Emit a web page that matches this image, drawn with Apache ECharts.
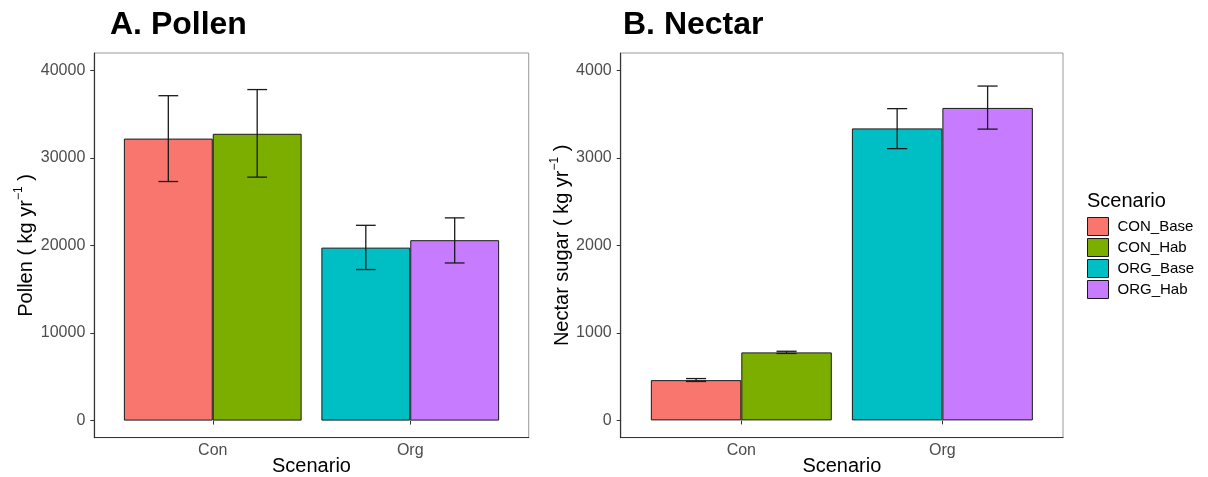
<!DOCTYPE html>
<html>
<head>
<meta charset="utf-8">
<script src="https://cdn.jsdelivr.net/npm/echarts@6/dist/echarts.min.js"></script>
<style>
  html, body { margin: 0; padding: 0; background: #fff; }
  #chart { width: 1208px; height: 477px; }
</style>
</head>
<body>
<div id="chart"></div>
<script>
// Scenario groups on the x axis and the four fill levels
const categories = ['Con', 'Org'];
const scenarios = ['CON_Base', 'CON_Hab', 'ORG_Base', 'ORG_Hab'];
const scenarioCategory = ['Con', 'Con', 'Org', 'Org'];
const scenarioSlot = ['Base', 'Hab', 'Base', 'Hab'];
const scenarioColors = ['#F8766D', '#7CAE00', '#00BFC4', '#C77CFF'];

// A. Pollen (kg yr-1): mean with lower / upper error limits
const pollenMean = [32200, 32750, 19750, 20600];
const pollenLow = [27300, 27800, 17250, 18000];
const pollenHigh = [37100, 37800, 22300, 23150];

// B. Nectar sugar (kg yr-1): mean with lower / upper error limits
const nectarMean = [460, 777, 3336, 3570];
const nectarLow = [445, 765, 3105, 3328];
const nectarHigh = [478, 790, 3562, 3820];

const FONT = 'Liberation Sans, Arial, sans-serif';
const chart = echarts.init(document.getElementById('chart'));

function barSeries(axisIdx, means) {
  return scenarios.map((name, i) => {
    const catIdx = categories.indexOf(scenarioCategory[i]);
    const data = categories.map((c, k) => (k === catIdx ? means[i] : '-'));
    return {
      name: name,
      type: 'bar',
      xAxisIndex: axisIdx,
      yAxisIndex: axisIdx,
      stack: 'slot' + axisIdx + scenarioSlot[i],
      barCategoryGap: '10%',
      barGap: '0%',
      data: data,
      itemStyle: { color: scenarioColors[i], borderColor: '#1a1a1a', borderWidth: 1 },
      emphasis: { disabled: true },
      silent: true
    };
  });
}

function errorSeries(axisIdx, low, high) {
  const data = scenarios.map((name, i) => [
    categories.indexOf(scenarioCategory[i]),
    low[i],
    high[i],
    scenarioSlot[i] === 'Base' ? -1 : 1
  ]);
  return {
    type: 'custom',
    xAxisIndex: axisIdx,
    yAxisIndex: axisIdx,
    silent: true,
    z: 5,
    encode: { x: 0, y: [1, 2] },
    data: data,
    renderItem: function (params, api) {
      const cat = api.value(0);
      const band = api.size([1, 0])[0];
      const dx = api.value(3) * band * 0.225;
      const pLo = api.coord([cat, api.value(1)]);
      const pHi = api.coord([cat, api.value(2)]);
      const x = pLo[0] + dx;
      const hw = band * 0.05;
      const style = { stroke: '#1a1a1a', lineWidth: 1.3 };
      return {
        type: 'group',
        children: [
          { type: 'line', shape: { x1: x, y1: pLo[1], x2: x, y2: pHi[1] }, style: style },
          { type: 'line', shape: { x1: x - hw, y1: pLo[1], x2: x + hw, y2: pLo[1] }, style: style },
          { type: 'line', shape: { x1: x - hw, y1: pHi[1], x2: x + hw, y2: pHi[1] }, style: style }
        ]
      };
    }
  };
}

function mainXAxis(gridIdx) {
  return {
    type: 'category',
    gridIndex: gridIdx,
    data: categories,
    boundaryGap: true,
    offset: 17,
    name: 'Scenario',
    nameLocation: 'middle',
    nameGap: 19,
    nameMoveOverlap: false,
    nameTextStyle: { fontFamily: FONT, fontSize: 20, color: '#000' },
    axisLine: { show: false },
    axisTick: { show: true, length: 4, alignWithLabel: true, lineStyle: { color: '#333', width: 1 } },
    axisLabel: { fontFamily: FONT, fontSize: 16, color: '#4d4d4d', margin: 5 },
    splitLine: { show: false }
  };
}

function mainYAxis(gridIdx, max, interval, offset, nameText, nameGap) {
  return {
    type: 'value',
    gridIndex: gridIdx,
    min: 0,
    max: max,
    interval: interval,
    offset: offset,
    name: '{t|' + nameText + ' ( kg yr}{s|−1}{t| )}',
    nameLocation: 'middle',
    nameGap: nameGap,
    nameMoveOverlap: false,
    nameTextStyle: {
      fontFamily: FONT,
      color: '#000',
      rich: {
        t: { fontFamily: FONT, fontSize: 20, color: '#000', lineHeight: 24, verticalAlign: 'bottom' },
        s: { fontFamily: FONT, fontSize: 12, color: '#000', lineHeight: 24, verticalAlign: 'top' }
      }
    },
    axisLine: { show: false },
    axisTick: { show: true, length: 4, lineStyle: { color: '#333', width: 1 } },
    axisLabel: {
      fontFamily: FONT, fontSize: 16, color: '#4d4d4d', margin: 9,
      formatter: function (v) { return String(v); }
    },
    splitLine: { show: false }
  };
}

function frameAxis(gridIdx) {
  return {
    type: 'value',
    gridIndex: gridIdx,
    min: 0,
    max: 1,
    axisLine: { show: true, lineStyle: { color: '#333', width: 1.2 } },
    axisTick: { show: false },
    axisLabel: { show: false },
    splitLine: { show: false }
  };
}

const option = {
  animation: false,
  backgroundColor: '#fff',
  textStyle: { fontFamily: FONT },
  title: [
    { text: 'A. Pollen', left: 110, top: 9, padding: 0,
      textStyle: { fontFamily: FONT, fontSize: 32, fontWeight: 'bold', color: '#000' } },
    { text: 'B. Nectar', left: 623, top: 9, padding: 0,
      textStyle: { fontFamily: FONT, fontSize: 32, fontWeight: 'bold', color: '#000' } },
    { text: 'Scenario', left: 1087, top: 191, padding: 0,
      textStyle: { fontFamily: FONT, fontSize: 20, fontWeight: 'normal', color: '#000' } }
  ],
  legend: {
    orient: 'vertical',
    left: 1087,
    top: 217,
    padding: 0,
    itemWidth: 21,
    itemHeight: 18,
    itemGap: 2,
    icon: 'rect',
    selectedMode: false,
    data: scenarios,
    itemStyle: { borderColor: '#1a1a1a', borderWidth: 1 },
    textStyle: { fontFamily: FONT, fontSize: 15, color: '#000', padding: [0, 0, 0, 4] }
  },
  grid: [
    { left: 114, right: 1208 - 509, top: 70.3, bottom: 477 - 420.6, outerBoundsMode: 'none', containLabel: false },
    { left: 640.8, right: 1208 - 1042.9, top: 70.3, bottom: 477 - 420.4, outerBoundsMode: 'none', containLabel: false },
    { left: 94.3, right: 1208 - 528.7, top: 53, bottom: 477 - 437.6, show: true, outerBoundsMode: 'none',
      borderColor: '#999', borderWidth: 1, backgroundColor: 'transparent' },
    { left: 620.7, right: 1208 - 1063, top: 53, bottom: 477 - 437.6, show: true, outerBoundsMode: 'none',
      borderColor: '#999', borderWidth: 1, backgroundColor: 'transparent' }
  ],
  xAxis: [
    mainXAxis(0),
    mainXAxis(1),
    frameAxis(2),
    frameAxis(3)
  ],
  yAxis: [
    mainYAxis(0, 40000, 10000, 19.7, 'Pollen', 58),
    mainYAxis(1, 4000, 1000, 20.1, 'Nectar sugar', 48),
    frameAxis(2),
    frameAxis(3)
  ],
  series: [].concat(
    barSeries(0, pollenMean),
    [errorSeries(0, pollenLow, pollenHigh)],
    barSeries(1, nectarMean),
    [errorSeries(1, nectarLow, nectarHigh)]
  )
};

chart.setOption(option);
</script>
</body>
</html>
